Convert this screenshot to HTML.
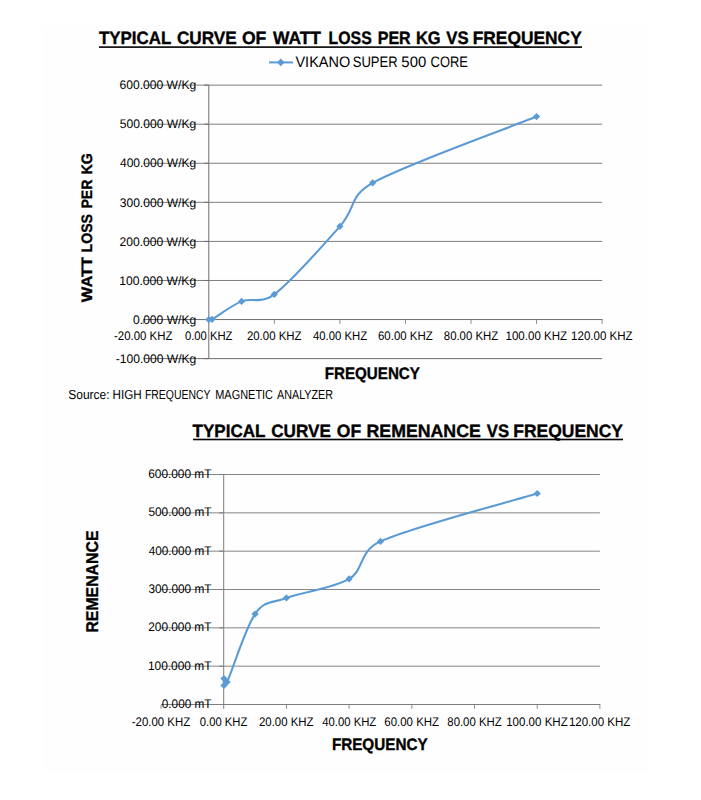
<!DOCTYPE html>
<html><head><meta charset="utf-8"><style>
html,body{margin:0;padding:0;background:#fff;overflow:hidden;}
svg{display:block;}
text{font-family:"Liberation Sans", sans-serif;fill:#000;text-rendering:geometricPrecision;}
</style></head><body>
<svg width="701" height="800" viewBox="0 0 701 800">
<rect width="701" height="800" fill="#fff"/>
<rect x="43" y="25" width="607" height="747" fill="#fefefe"/>
<rect x="99" y="46.3" width="483" height="1.6" fill="#000"/>
<rect x="269" y="61.4" width="24" height="2" fill="#5b9bd5"/>
<path d="M280.80,58.60 L284.60,62.40 L280.80,66.20 L277.00,62.40 Z" fill="#5b9bd5"/>
<rect x="143.25" y="279.98" width="458.85" height="1.00" fill="#7f7f7f"/>
<rect x="143.25" y="240.91" width="458.85" height="1.00" fill="#7f7f7f"/>
<rect x="143.25" y="201.84" width="458.85" height="1.00" fill="#7f7f7f"/>
<rect x="143.25" y="162.77" width="458.85" height="1.00" fill="#7f7f7f"/>
<rect x="143.25" y="123.70" width="458.85" height="1.00" fill="#7f7f7f"/>
<rect x="143.25" y="84.63" width="458.85" height="1.00" fill="#7f7f7f"/>
<rect x="143.25" y="358.12" width="458.85" height="1.00" fill="#6e6e6e"/>
<rect x="208.30" y="84.63" width="1.00" height="274.49" fill="#6e6e6e"/>
<rect x="143.25" y="319.05" width="459.35" height="1.00" fill="#6e6e6e"/>
<rect x="142.75" y="320.05" width="1.00" height="3.80" fill="#8b8b8b"/>
<rect x="273.85" y="320.05" width="1.00" height="3.80" fill="#8b8b8b"/>
<rect x="339.40" y="320.05" width="1.00" height="3.80" fill="#8b8b8b"/>
<rect x="404.95" y="320.05" width="1.00" height="3.80" fill="#8b8b8b"/>
<rect x="470.50" y="320.05" width="1.00" height="3.80" fill="#8b8b8b"/>
<rect x="536.05" y="320.05" width="1.00" height="3.80" fill="#8b8b8b"/>
<rect x="601.60" y="320.05" width="1.00" height="3.80" fill="#8b8b8b"/>
<rect x="204.30" y="358.12" width="4.00" height="1.00" fill="#6e6e6e"/>
<rect x="204.30" y="319.05" width="4.00" height="1.00" fill="#6e6e6e"/>
<rect x="204.30" y="279.98" width="4.00" height="1.00" fill="#6e6e6e"/>
<rect x="204.30" y="240.91" width="4.00" height="1.00" fill="#6e6e6e"/>
<rect x="204.30" y="201.84" width="4.00" height="1.00" fill="#6e6e6e"/>
<rect x="204.30" y="162.77" width="4.00" height="1.00" fill="#6e6e6e"/>
<rect x="204.30" y="123.70" width="4.00" height="1.00" fill="#6e6e6e"/>
<rect x="204.30" y="84.63" width="4.00" height="1.00" fill="#6e6e6e"/>
<path d="M208.80,319.55 C209.35,319.52 210.64,320.15 212.08,319.35 C217.54,316.33 231.20,305.55 241.58,301.38 C251.95,297.21 261.02,304.52 274.35,294.35 C290.74,281.85 323.51,244.96 339.90,226.37 C356.29,207.78 348.88,196.09 372.68,182.81 C405.45,164.51 509.24,127.62 536.55,116.58" fill="none" stroke="#5b9bd5" stroke-width="2.1" stroke-linejoin="round"/>
<path d="M208.80,315.95 L212.40,319.55 L208.80,323.15 L205.20,319.55 Z" fill="#5b9bd5"/>
<path d="M212.08,315.75 L215.68,319.35 L212.08,322.95 L208.48,319.35 Z" fill="#5b9bd5"/>
<path d="M241.58,297.78 L245.18,301.38 L241.58,304.98 L237.98,301.38 Z" fill="#5b9bd5"/>
<path d="M274.35,290.75 L277.95,294.35 L274.35,297.95 L270.75,294.35 Z" fill="#5b9bd5"/>
<path d="M339.90,222.77 L343.50,226.37 L339.90,229.97 L336.30,226.37 Z" fill="#5b9bd5"/>
<path d="M372.68,179.21 L376.28,182.81 L372.68,186.41 L369.07,182.81 Z" fill="#5b9bd5"/>
<path d="M536.55,112.98 L540.15,116.58 L536.55,120.18 L532.95,116.58 Z" fill="#5b9bd5"/>
<rect x="193" y="438.7" width="430" height="1.6" fill="#000"/>
<rect x="161.00" y="665.67" width="438.90" height="1.00" fill="#858585"/>
<rect x="161.00" y="627.33" width="438.90" height="1.00" fill="#858585"/>
<rect x="161.00" y="589.00" width="438.90" height="1.00" fill="#858585"/>
<rect x="161.00" y="550.67" width="438.90" height="1.00" fill="#858585"/>
<rect x="161.00" y="512.34" width="438.90" height="1.00" fill="#858585"/>
<rect x="161.00" y="474.00" width="438.90" height="1.00" fill="#858585"/>
<rect x="223.20" y="474.00" width="1.00" height="234.80" fill="#7d7d7d"/>
<rect x="161.00" y="704.00" width="439.40" height="1.00" fill="#7d7d7d"/>
<rect x="160.50" y="705.00" width="1.00" height="3.80" fill="#909090"/>
<rect x="285.90" y="705.00" width="1.00" height="3.80" fill="#909090"/>
<rect x="348.60" y="705.00" width="1.00" height="3.80" fill="#909090"/>
<rect x="411.30" y="705.00" width="1.00" height="3.80" fill="#909090"/>
<rect x="474.00" y="705.00" width="1.00" height="3.80" fill="#909090"/>
<rect x="536.70" y="705.00" width="1.00" height="3.80" fill="#909090"/>
<rect x="599.40" y="705.00" width="1.00" height="3.80" fill="#909090"/>
<rect x="219.20" y="704.00" width="4.00" height="1.00" fill="#7d7d7d"/>
<rect x="219.20" y="665.67" width="4.00" height="1.00" fill="#7d7d7d"/>
<rect x="219.20" y="627.33" width="4.00" height="1.00" fill="#7d7d7d"/>
<rect x="219.20" y="589.00" width="4.00" height="1.00" fill="#7d7d7d"/>
<rect x="219.20" y="550.67" width="4.00" height="1.00" fill="#7d7d7d"/>
<rect x="219.20" y="512.34" width="4.00" height="1.00" fill="#7d7d7d"/>
<rect x="219.20" y="474.00" width="4.00" height="1.00" fill="#7d7d7d"/>
<path d="M224.00,685.40 C224.00,684.27 223.48,679.17 224.00,678.60 C224.52,678.03 226.10,684.07 227.10,682.00 C232.27,671.24 245.17,628.05 255.05,614.03 C264.93,600.02 270.72,603.78 286.40,597.93 C302.07,592.09 333.42,588.38 349.10,578.96 C364.77,569.54 358.18,551.51 380.45,541.39 C411.80,527.15 511.08,501.46 537.20,493.48" fill="none" stroke="#5b9bd5" stroke-width="2.1" stroke-linejoin="round"/>
<path d="M224.00,681.80 L227.60,685.40 L224.00,689.00 L220.40,685.40 Z" fill="#5b9bd5"/>
<path d="M224.00,675.00 L227.60,678.60 L224.00,682.20 L220.40,678.60 Z" fill="#5b9bd5"/>
<path d="M227.10,678.40 L230.70,682.00 L227.10,685.60 L223.50,682.00 Z" fill="#5b9bd5"/>
<path d="M255.05,610.43 L258.65,614.03 L255.05,617.63 L251.45,614.03 Z" fill="#5b9bd5"/>
<path d="M286.40,594.33 L290.00,597.93 L286.40,601.53 L282.80,597.93 Z" fill="#5b9bd5"/>
<path d="M349.10,575.36 L352.70,578.96 L349.10,582.56 L345.50,578.96 Z" fill="#5b9bd5"/>
<path d="M380.45,537.79 L384.05,541.39 L380.45,544.99 L376.85,541.39 Z" fill="#5b9bd5"/>
<path d="M537.20,489.88 L540.80,493.48 L537.20,497.08 L533.60,493.48 Z" fill="#5b9bd5"/>
<text x="99.00" y="43.90" font-size="17.878" textLength="72.28" lengthAdjust="spacingAndGlyphs" font-weight="bold" stroke="#000" stroke-width="0.35">TYPICAL</text>
<text x="176.92" y="43.90" font-size="17.878" textLength="59.71" lengthAdjust="spacingAndGlyphs" font-weight="bold" stroke="#000" stroke-width="0.35">CURVE</text>
<text x="241.91" y="43.90" font-size="17.878" textLength="24.45" lengthAdjust="spacingAndGlyphs" font-weight="bold" stroke="#000" stroke-width="0.35">OF</text>
<text x="272.94" y="43.90" font-size="17.878" textLength="48.07" lengthAdjust="spacingAndGlyphs" font-weight="bold" stroke="#000" stroke-width="0.35">WATT</text>
<text x="328.61" y="43.90" font-size="17.878" textLength="43.14" lengthAdjust="spacingAndGlyphs" font-weight="bold" stroke="#000" stroke-width="0.35">LOSS</text>
<text x="377.70" y="43.90" font-size="17.878" textLength="33.01" lengthAdjust="spacingAndGlyphs" font-weight="bold" stroke="#000" stroke-width="0.35">PER</text>
<text x="415.88" y="43.90" font-size="17.878" textLength="24.69" lengthAdjust="spacingAndGlyphs" font-weight="bold" stroke="#000" stroke-width="0.35">KG</text>
<text x="446.30" y="43.90" font-size="17.878" textLength="22.24" lengthAdjust="spacingAndGlyphs" font-weight="bold" stroke="#000" stroke-width="0.35">VS</text>
<text x="472.73" y="43.90" font-size="17.878" textLength="109.01" lengthAdjust="spacingAndGlyphs" font-weight="bold" stroke="#000" stroke-width="0.35">FREQUENCY</text>
<text x="295.46" y="66.70" font-size="15.116" textLength="54.76" lengthAdjust="spacingAndGlyphs">VIKANO</text>
<text x="352.75" y="66.70" font-size="15.116" textLength="44.95" lengthAdjust="spacingAndGlyphs">SUPER</text>
<text x="401.36" y="66.70" font-size="15.116" textLength="24.85" lengthAdjust="spacingAndGlyphs">500</text>
<text x="430.56" y="66.70" font-size="15.116" textLength="37.40" lengthAdjust="spacingAndGlyphs">CORE</text>
<text x="68.31" y="399.10" font-size="13.081" textLength="41.30" lengthAdjust="spacingAndGlyphs">Source:</text>
<text x="112.61" y="399.10" font-size="13.081" textLength="29.14" lengthAdjust="spacingAndGlyphs">HIGH</text>
<text x="144.90" y="399.10" font-size="13.081" textLength="65.59" lengthAdjust="spacingAndGlyphs">FREQUENCY</text>
<text x="215.26" y="399.10" font-size="13.081" textLength="57.78" lengthAdjust="spacingAndGlyphs">MAGNETIC</text>
<text x="277.10" y="399.10" font-size="13.081" textLength="55.87" lengthAdjust="spacingAndGlyphs">ANALYZER</text>
<text x="192.60" y="436.60" font-size="17.878" textLength="72.89" lengthAdjust="spacingAndGlyphs" font-weight="bold" stroke="#000" stroke-width="0.35">TYPICAL</text>
<text x="271.22" y="436.60" font-size="17.878" textLength="59.72" lengthAdjust="spacingAndGlyphs" font-weight="bold" stroke="#000" stroke-width="0.35">CURVE</text>
<text x="336.81" y="436.60" font-size="17.878" textLength="24.45" lengthAdjust="spacingAndGlyphs" font-weight="bold" stroke="#000" stroke-width="0.35">OF</text>
<text x="366.51" y="436.60" font-size="17.878" textLength="114.30" lengthAdjust="spacingAndGlyphs" font-weight="bold" stroke="#000" stroke-width="0.35">REMENANCE</text>
<text x="486.80" y="436.60" font-size="17.878" textLength="22.24" lengthAdjust="spacingAndGlyphs" font-weight="bold" stroke="#000" stroke-width="0.35">VS</text>
<text x="513.22" y="436.60" font-size="17.878" textLength="109.72" lengthAdjust="spacingAndGlyphs" font-weight="bold" stroke="#000" stroke-width="0.35">FREQUENCY</text>
<text x="324.69" y="378.70" font-size="16.715" textLength="95.22" lengthAdjust="spacingAndGlyphs" font-weight="bold" stroke="#000" stroke-width="0.35">FREQUENCY</text>
<text x="331.89" y="749.90" font-size="16.715" textLength="95.73" lengthAdjust="spacingAndGlyphs" font-weight="bold" stroke="#000" stroke-width="0.35">FREQUENCY</text>
<text transform="translate(91.90,302.50) rotate(-90)" x="0.27" y="0" font-size="15.116" textLength="45.36" lengthAdjust="spacingAndGlyphs" font-weight="bold" stroke="#000" stroke-width="0.35">WATT</text>
<text transform="translate(91.90,251.80) rotate(-90)" x="-0.70" y="0" font-size="15.116" textLength="38.47" lengthAdjust="spacingAndGlyphs" font-weight="bold" stroke="#000" stroke-width="0.35">LOSS</text>
<text transform="translate(91.90,207.90) rotate(-90)" x="-0.70" y="0" font-size="15.116" textLength="28.97" lengthAdjust="spacingAndGlyphs" font-weight="bold" stroke="#000" stroke-width="0.35">PER</text>
<text transform="translate(91.90,173.70) rotate(-90)" x="-0.71" y="0" font-size="15.116" textLength="21.34" lengthAdjust="spacingAndGlyphs" font-weight="bold" stroke="#000" stroke-width="0.35">KG</text>
<text transform="translate(97.80,631.70) rotate(-90)" x="-0.93" y="0" font-size="17.006" textLength="102.16" lengthAdjust="spacingAndGlyphs" font-weight="bold" stroke="#000" stroke-width="0.35">REMENANCE</text>
<text x="115.69" y="362.82" font-size="12.500" textLength="80.67" lengthAdjust="spacingAndGlyphs">-100.000 W/Kg</text>
<text x="133.05" y="323.75" font-size="12.500" textLength="63.25" lengthAdjust="spacingAndGlyphs">0.000 W/Kg</text>
<text x="119.23" y="284.68" font-size="12.500" textLength="76.97" lengthAdjust="spacingAndGlyphs">100.000 W/Kg</text>
<text x="119.47" y="245.61" font-size="12.500" textLength="76.72" lengthAdjust="spacingAndGlyphs">200.000 W/Kg</text>
<text x="119.72" y="206.54" font-size="12.500" textLength="76.48" lengthAdjust="spacingAndGlyphs">300.000 W/Kg</text>
<text x="119.96" y="167.47" font-size="12.500" textLength="76.23" lengthAdjust="spacingAndGlyphs">400.000 W/Kg</text>
<text x="119.72" y="128.40" font-size="12.500" textLength="76.48" lengthAdjust="spacingAndGlyphs">500.000 W/Kg</text>
<text x="119.47" y="89.33" font-size="12.500" textLength="76.72" lengthAdjust="spacingAndGlyphs">600.000 W/Kg</text>
<text x="114.04" y="339.70" font-size="12.500" textLength="58.35" lengthAdjust="spacingAndGlyphs">-20.00 KHZ</text>
<text x="184.94" y="339.70" font-size="12.500" textLength="47.55" lengthAdjust="spacingAndGlyphs">0.00 KHZ</text>
<text x="246.92" y="339.70" font-size="12.500" textLength="54.64" lengthAdjust="spacingAndGlyphs">20.00 KHZ</text>
<text x="312.93" y="339.70" font-size="12.500" textLength="54.18" lengthAdjust="spacingAndGlyphs">40.00 KHZ</text>
<text x="378.02" y="339.70" font-size="12.500" textLength="54.64" lengthAdjust="spacingAndGlyphs">60.00 KHZ</text>
<text x="443.80" y="339.70" font-size="12.500" textLength="54.41" lengthAdjust="spacingAndGlyphs">80.00 KHZ</text>
<text x="505.55" y="339.70" font-size="12.500" textLength="61.50" lengthAdjust="spacingAndGlyphs">100.00 KHZ</text>
<text x="571.10" y="339.70" font-size="12.500" textLength="61.50" lengthAdjust="spacingAndGlyphs">120.00 KHZ</text>
<text x="161.76" y="707.90" font-size="12.500" textLength="49.83" lengthAdjust="spacingAndGlyphs">0.000 mT</text>
<text x="147.95" y="669.57" font-size="12.500" textLength="63.56" lengthAdjust="spacingAndGlyphs">100.000 mT</text>
<text x="148.19" y="631.23" font-size="12.500" textLength="63.32" lengthAdjust="spacingAndGlyphs">200.000 mT</text>
<text x="148.43" y="592.90" font-size="12.500" textLength="63.08" lengthAdjust="spacingAndGlyphs">300.000 mT</text>
<text x="148.67" y="554.57" font-size="12.500" textLength="62.84" lengthAdjust="spacingAndGlyphs">400.000 mT</text>
<text x="148.43" y="516.24" font-size="12.500" textLength="63.08" lengthAdjust="spacingAndGlyphs">500.000 mT</text>
<text x="148.19" y="477.90" font-size="12.500" textLength="63.32" lengthAdjust="spacingAndGlyphs">600.000 mT</text>
<text x="131.79" y="725.90" font-size="12.500" textLength="58.35" lengthAdjust="spacingAndGlyphs">-20.00 KHZ</text>
<text x="199.84" y="725.90" font-size="12.500" textLength="47.55" lengthAdjust="spacingAndGlyphs">0.00 KHZ</text>
<text x="258.97" y="725.90" font-size="12.500" textLength="54.64" lengthAdjust="spacingAndGlyphs">20.00 KHZ</text>
<text x="322.13" y="725.90" font-size="12.500" textLength="54.18" lengthAdjust="spacingAndGlyphs">40.00 KHZ</text>
<text x="384.37" y="725.90" font-size="12.500" textLength="54.64" lengthAdjust="spacingAndGlyphs">60.00 KHZ</text>
<text x="447.30" y="725.90" font-size="12.500" textLength="54.41" lengthAdjust="spacingAndGlyphs">80.00 KHZ</text>
<text x="506.20" y="725.90" font-size="12.500" textLength="61.50" lengthAdjust="spacingAndGlyphs">100.00 KHZ</text>
<text x="568.90" y="725.90" font-size="12.500" textLength="61.50" lengthAdjust="spacingAndGlyphs">120.00 KHZ</text>
</svg>
</body></html>
